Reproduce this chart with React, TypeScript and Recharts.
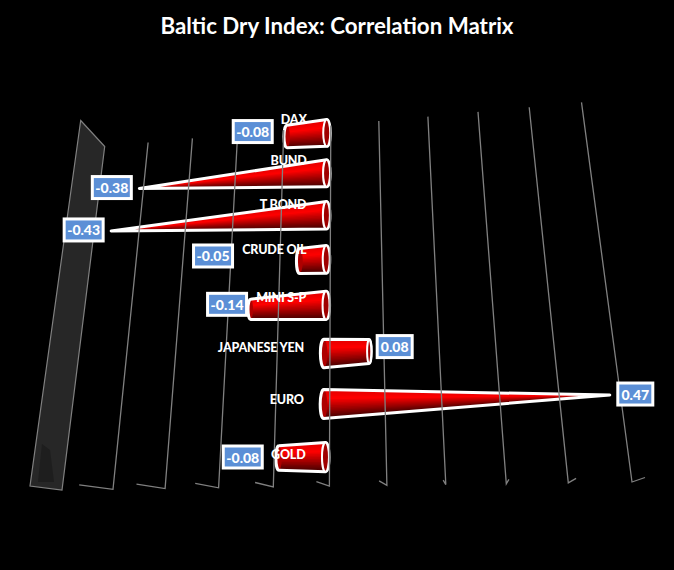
import { BarChart, Bar, XAxis, YAxis, LabelList } from "recharts";

const categories = ["DAX", "BUND", "T BOND", "CRUDE OIL", "MINI S-P", "JAPANESE YEN", "EURO", "GOLD"];
const correlations = [-0.08, -0.38, -0.43, -0.05, -0.14, 0.08, 0.47, -0.08];
const gridTicks = [-0.5, -0.4, -0.3, -0.2, -0.1, 0, 0.1, 0.2, 0.3, 0.4, 0.5];

const data = categories.map((name, i) => ({ name, value: correlations[i] }));

const W = 674;
const H = 570;
const GRID_TOP = 0.035; // gridlines start a little below the flat plot's top edge
const LABEL_FONT = "900 12.5px Lato";

// flat plot -> 3D looking floor
const quad = [
  [106, 136],
  [580, 91],
  [632, 482],
  [62, 490],
];

const dx1 = quad[1][0] - quad[2][0];
const dx2 = quad[3][0] - quad[2][0];
const dy1 = quad[1][1] - quad[2][1];
const dy2 = quad[3][1] - quad[2][1];
const sx = quad[0][0] - quad[1][0] + quad[2][0] - quad[3][0];
const sy = quad[0][1] - quad[1][1] + quad[2][1] - quad[3][1];
const det = dx1 * dy2 - dx2 * dy1;
const g = (sx * dy2 - dx2 * sy) / det;
const h = (dx1 * sy - sx * dy1) / det;

function project(x: number, y: number): [number, number] {
  const u = x / W;
  const s = y / H;
  const w = g * u + h * s + 1;
  return [
    ((quad[1][0] - quad[0][0] + g * quad[1][0]) * u + (quad[3][0] - quad[0][0] + h * quad[3][0]) * s + quad[0][0]) / w,
    ((quad[1][1] - quad[0][1] + g * quad[1][1]) * u + (quad[3][1] - quad[0][1] + h * quad[3][1]) * s + quad[0][1]) / w,
  ];
}

const pts = (list: number[][]) => list.map((p) => `${p[0].toFixed(1)},${p[1].toFixed(1)}`).join(" ");

function textWidth(text: string) {
  const ctx = document.createElement("canvas").getContext("2d");
  if (!ctx) return text.length * 7;
  ctx.font = LABEL_FONT;
  return ctx.measureText(text).width;
}

function shade(f: number) {
  // red near the top of the cone, falling to dark maroon underneath
  const top = 0.3;
  if (f < top) return `rgb(${Math.round(225 + (30 * f) / top)},0,0)`;
  return `rgb(${Math.round(255 - (190 * (f - top)) / (1 - top))},0,0)`;
}

// how far a cone has narrowed at its end
function endRatio(v: number) {
  return Math.abs(v) > 0.3 ? 0 : 1 - Math.abs(v) * 2;
}

function barGeometry(x: number, y: number, width: number, height: number) {
  const cy = y + height / 2;
  const [px, py] = project(x, cy);
  const [qx, qy] = project(x + width, cy);
  const hh = (height / 2) * (0.95 + (0.1 * cy) / H);
  const bx = px - (width > 0 ? 6 : 4);
  // the cones run a little past their value
  const ex = bx + (qx - px) * 1.05;
  const ey = py - 2 + (qy - py) * 1.05;
  return { bx, by: py - 2, ex, ey, hh };
}

const ConeBar = (props: any) => {
  const { x, y, width, height, value } = props;
  const v = Array.isArray(value) ? value[1] + value[0] : value;
  const { bx, by, ex, ey, hh } = barGeometry(x, y, width, height);
  const ratio = endRatio(v);
  const eh = hh * ratio;
  const strips = [];
  const n = 18;
  for (let i = 0; i < n; i++) {
    const f = i / n;
    strips.push(
      <polygon
        key={i}
        points={pts([
          [bx, by - hh + 2 * hh * f],
          [ex, ey - eh + 2 * eh * f],
          [ex, ey + eh],
          [bx, by + hh],
        ])}
        fill={shade(f + 0.5 / n)}
      />
    );
  }
  const rightX = Math.max(bx, ex);
  const leftX = Math.min(bx, ex);
  const rightY = rightX === bx ? by : ey;
  const leftY = rightX === bx ? ey : by;
  const rightH = rightX === bx ? hh : eh;
  const leftH = rightX === bx ? eh : hh;
  const rightRx = rightX === bx ? 3.5 : 2.5 * ratio;
  const leftRx = 3.5 * (leftH / hh);
  const outline = `M${leftX},${leftY - leftH} L${rightX},${rightY - rightH} A${rightRx} ${rightH} 0 0 1 ${rightX},${rightY + rightH} L${leftX},${leftY + leftH} A${leftRx} ${leftH} 0 0 1 ${leftX},${leftY - leftH} Z`;
  return (
    <g>
      {strips}
      <ellipse cx={leftX} cy={leftY} rx={leftRx} ry={leftH} fill={shade(0.6)} />
      <path d={outline} fill="none" stroke="#fff" strokeWidth={3} strokeLinejoin="round" />
      {rightH > 0 && (
        <ellipse cx={rightX} cy={rightY} rx={rightRx} ry={rightH} fill="#a00000" stroke="#fff" strokeWidth={2} />
      )}
    </g>
  );
};

const labelRight = (cx: number) => cx - 20;
const labelY = (by: number) => by - 16 + (11 * (by - 133)) / 324;

const CategoryLabel = (props: any) => {
  const { x, y, width, height, value } = props;
  const { bx, by } = barGeometry(x, y, width, height);
  return (
    <text
      x={labelRight(bx)}
      y={labelY(by + 2)}
      textAnchor="end"
      dominantBaseline="central"
      fontFamily="Lato"
      fontWeight={900}
      fontSize={12.5}
      letterSpacing={-0.2}
      fill="#fff"
    >
      {value}
    </text>
  );
};

const ValueBox = (props: any) => {
  const { x, y, width, height, value, index } = props;
  const { bx, ex, ey } = barGeometry(x, y, width, height);
  const boxW = value > 0 ? 35 : 39;
  const boxH = 22;
  let left;
  if (value > 0) {
    left = ex + 8;
  } else {
    // keep clear of the category label as well as the bar tip
    const labelLeft = labelRight(bx) - textWidth(categories[index]);
    const tipGap = endRatio(value) === 0 ? 8 : 3;
    left = Math.min(ex - tipGap, labelLeft - 8) - boxW;
  }
  // blunt cones carry their box a bit higher, except the front row
  const cy = ey - (endRatio(value) > 0 && ey < 400 ? 5 : 1);
  return (
    <g>
      <rect x={left} y={cy - boxH / 2} width={boxW} height={boxH} fill="#5b8fd6" stroke="#fff" strokeWidth={3} />
      <text
        x={left + boxW / 2}
        y={cy}
        textAnchor="middle"
        dominantBaseline="central"
        fontFamily="Lato"
        fontWeight={900}
        fontSize={14}
        fill="#fff"
      >
        {value.toFixed(2)}
      </text>
    </g>
  );
};

// gridlines hang off the value axis ticks so they follow its scale
const GridTick = (props: any) => {
  const { x, payload } = props;
  const v = payload.value;
  const top = project(x, GRID_TOP * H);
  const bottom = project(x, H);
  const footX = bottom[0] - 13 + 52 * v;
  const footY = bottom[1] - 4.5;
  if (v === -0.5) {
    return (
      <g>
        <polygon
          points={pts([
            [top[0] - 24, top[1] - 26],
            top,
            bottom,
            [bottom[0] - 32, bottom[1] - 4],
          ])}
          fill="#272727"
          stroke="#808080"
          strokeWidth={1.2}
        />
        <polygon
          points={pts([
            [bottom[0] - 24, bottom[1] - 8],
            [bottom[0] - 20, bottom[1] - 46],
            [bottom[0] - 12, bottom[1] - 40],
            [bottom[0] - 8, bottom[1] - 8],
          ])}
          fill="#1e1e1e"
        />
      </g>
    );
  }
  return (
    <polyline points={pts([top, bottom, [footX, footY]])} fill="none" stroke="#808080" strokeWidth={1.3} />
  );
};

export default function App() {
  return (
    <div style={{ position: "absolute", left: 0, top: 0, width: W, height: H, background: "#000" }}>
      <div
        style={{
          position: "absolute",
          left: 0,
          top: 11,
          width: W,
          textAlign: "center",
          color: "#fff",
          fontFamily: "Lato",
          fontWeight: 700,
          fontSize: 22.3,
          lineHeight: "30px",
        }}
      >
        Baltic Dry Index: Correlation Matrix
      </div>
      <BarChart
        width={W}
        height={H}
        data={data}
        layout="vertical"
        margin={{ top: 0, right: 0, bottom: 0, left: 0 }}
        barSize={28}
      >
        <XAxis
          type="number"
          domain={[-0.5, 0.5]}
          ticks={gridTicks}
          interval={0}
          orientation="top"
          height={1}
          axisLine={false}
          tickLine={false}
          tick={<GridTick />}
        />
        <YAxis type="category" dataKey="name" hide />
        <Bar dataKey="value" isAnimationActive={false} shape={<ConeBar />}>
          <LabelList dataKey="name" content={<CategoryLabel />} />
          <LabelList dataKey="value" content={<ValueBox />} />
        </Bar>
      </BarChart>
    </div>
  );
}
